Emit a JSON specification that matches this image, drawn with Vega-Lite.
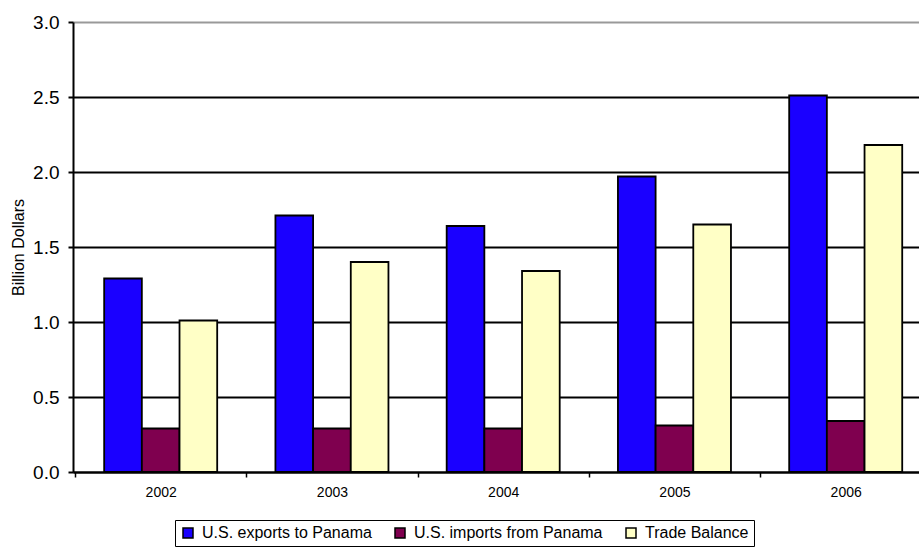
{
  "$schema": "https://vega.github.io/schema/vega-lite/v6.json",
  "width": 846,
  "height": 450,
  "autosize": {"type": "none"},
  "padding": {"left": 73, "top": 22, "right": 0, "bottom": 78},
  "background": "white",
  "config": {
    "view": {"stroke": null},
    "font": "Liberation Sans"
  },
  "data": {
    "values": [
      {"year": "2002", "series": "U.S. exports to Panama", "value": 1.29},
      {"year": "2002", "series": "U.S. imports from Panama", "value": 0.29},
      {"year": "2002", "series": "Trade Balance", "value": 1.01},
      {"year": "2003", "series": "U.S. exports to Panama", "value": 1.71},
      {"year": "2003", "series": "U.S. imports from Panama", "value": 0.29},
      {"year": "2003", "series": "Trade Balance", "value": 1.40},
      {"year": "2004", "series": "U.S. exports to Panama", "value": 1.64},
      {"year": "2004", "series": "U.S. imports from Panama", "value": 0.29},
      {"year": "2004", "series": "Trade Balance", "value": 1.34},
      {"year": "2005", "series": "U.S. exports to Panama", "value": 1.97},
      {"year": "2005", "series": "U.S. imports from Panama", "value": 0.31},
      {"year": "2005", "series": "Trade Balance", "value": 1.65},
      {"year": "2006", "series": "U.S. exports to Panama", "value": 2.51},
      {"year": "2006", "series": "U.S. imports from Panama", "value": 0.34},
      {"year": "2006", "series": "Trade Balance", "value": 2.18}
    ]
  },
  "mark": {"type": "bar", "stroke": "black", "strokeWidth": 1.8},
  "encoding": {
    "x": {
      "field": "year",
      "type": "nominal",
      "scale": {"paddingInner": 0.34, "paddingOuter": 0.14, "align": 0.65},
      "axis": {
        "title": null,
        "labelAngle": 0,
        "labelFontSize": 14,
        "labelColor": "black",
        "labelPadding": 8,
        "bandPosition": 0,
        "tickOffset": -29,
        "labelOffset": 29,
        "tickColor": "black",
        "tickSize": 5,
        "tickWidth": 1.5,
        "domainColor": "black",
        "domainWidth": 2,
        "grid": false
      }
    },
    "xOffset": {
      "field": "series",
      "type": "nominal",
      "sort": ["U.S. exports to Panama", "U.S. imports from Panama", "Trade Balance"],
      "scale": {"paddingInner": 0, "paddingOuter": 0}
    },
    "y": {
      "field": "value",
      "type": "quantitative",
      "scale": {"domain": [0, 3], "nice": false},
      "axis": {
        "title": "Billion Dollars",
        "titleFontSize": 16,
        "titleFontWeight": "normal",
        "titleColor": "black",
        "titlePadding": 6,
        "values": [0, 0.5, 1, 1.5, 2, 2.5, 3],
        "format": ".1f",
        "labelFontSize": 19,
        "labelColor": "black",
        "labelPadding": 9,
        "tickColor": "black",
        "tickSize": 5,
        "tickWidth": 2,
        "domainColor": "black",
        "domainWidth": 2,
        "grid": true,
        "gridColor": {"condition": {"test": "datum.value === 3", "value": "#999999"}, "value": "black"},
        "gridWidth": 2,
        "gridOpacity": 1
      }
    },
    "color": {
      "field": "series",
      "type": "nominal",
      "scale": {
        "domain": ["U.S. exports to Panama", "U.S. imports from Panama", "Trade Balance"],
        "range": ["#1a00ff", "#7f004f", "#ffffc6"]
      },
      "legend": {
        "title": null,
        "orient": "none",
        "legendX": 102,
        "legendY": 498,
        "direction": "horizontal",
        "strokeColor": "black",
        "padding": 5,
        "symbolType": "square",
        "symbolSize": 100,
        "symbolStrokeColor": "black",
        "symbolStrokeWidth": 1.5,
        "symbolOpacity": 1,
        "labelFontSize": 16,
        "labelColor": "black",
        "labelOffset": 6,
        "columnPadding": 20,
        "labelLimit": 300
      }
    }
  }
}
